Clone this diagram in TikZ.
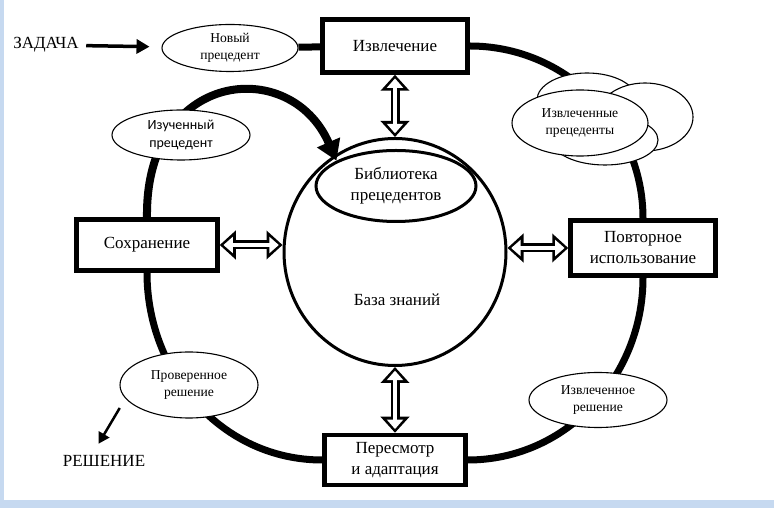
\documentclass[tikz,border=0pt]{standalone}
\usepackage{fontspec}
\setmainfont{Liberation Serif}
\newfontfamily\calibri{Carlito}
\usetikzlibrary{arrows.meta,shapes.geometric}

\definecolor{pageblue}{RGB}{198,217,240}

\tikzset{
  stage/.style={draw, fill=white, line width=4.5pt, minimum width=145pt,
    minimum height=53pt, align=center, font=\fontsize{17}{21}\selectfont},
  caseell/.style={ellipse, draw, fill=white, line width=1.1pt, inner sep=0pt,
    minimum width=136pt, minimum height=48pt, align=center,
    font=\fontsize{13.6}{17}\selectfont},
  ring/.style={line width=7pt},
  dbl/.style={line width=9pt,
    {Triangle[length=16pt,width=28pt]}-{Triangle[length=16pt,width=28pt]},
    postaction={draw=white, line width=3.5pt,
      {Triangle[length=9.5pt,width=16pt]}-{Triangle[length=9.5pt,width=16pt]},
      shorten <=3.7pt, shorten >=3.7pt}},
  txt/.style={font=\fontsize{17}{21}\selectfont}
}

\begin{document}
\begin{tikzpicture}[x=1pt,y=1pt]

% Page
\fill[pageblue] (0,0) rectangle (774,508);
\fill[white] (4,8) rectangle (774,508);
\useasboundingbox (0,0) rectangle (774,508);

% Stages
\node[stage] (izv) at (395,462) {Извлечение};
\node[stage, minimum height=55pt] (povt) at (643,260) {Повторное\\использование};
\node[stage, minimum width=141pt, minimum height=51pt] (soh) at (147,263) {Сохранение};
\node[stage, minimum width=141pt, minimum height=50pt] (pers) at (395,48) {Пересмотр\\и адаптация};

% Knowledge base
\node[ellipse, draw, line width=3pt, minimum width=222pt, minimum height=227pt] (kb) at (395,256) {};
\node[ellipse, draw, line width=3pt, minimum width=160pt, minimum height=71pt,
  align=center, txt] (lib) at (396,322) {Библиотека\\прецедентов};
\node[txt] (kbl) at (397,208) {База знаний};

% Cycle
\draw[ring] (izv.east) to[out=0,in=90] (povt.north);
\draw[ring] (povt.south) to[out=-90,in=0] (pers.east);
\draw[ring] (pers.west) to[out=180,in=-90] (soh.south);
\draw[line width=8pt, -{Triangle[length=20pt,width=24pt]}]
  (soh.north) .. controls +(-2,147) and +(-46,106) .. (lib.157);

% Cases
\node[caseell, minimum height=47pt] (nov) at (230,460) {Новый\\прецедент};
\node[caseell, minimum width=138pt, minimum height=50pt,
  font=\calibri\fontsize{14}{17.5}\selectfont] (izu) at (181,373) {Изученный\\прецедент};
\node[caseell, minimum width=138pt, minimum height=66pt] (pr) at (189,123) {Проверенное\\решение};
\node[caseell, minimum width=138pt, minimum height=55pt] (izr) at (598,108) {Извлеченное\\решение};

% Retrieved cases
\node[caseell, minimum width=100pt, minimum height=54pt] (cltop) at (587,408) {};
\node[caseell, minimum width=96pt, minimum height=68pt] (clright) at (645,391) {};
\node[caseell, minimum width=106pt, minimum height=50pt] (clbot) at (605,368) {};
\node[caseell, minimum width=136pt, minimum height=66pt] (found) at (580,385) {Извлеченные\\прецеденты};

% Input and output
\node[txt] (zad) at (46,463) {ЗАДАЧА};
\node[txt, inner sep=2pt] (res) at (104,47) {РЕШЕНИЕ};
\draw[line width=3.5pt, -{Triangle[length=13pt,width=14pt]}, shorten <=4pt, shorten >=12pt] (zad) -- (nov);
\draw[ring] (nov) -- (izv);
\draw[line width=2.5pt, -{Triangle[length=11pt,width=12pt]}, shorten <=11pt, shorten >=11pt]
  (pr.192) -- (res.145);

% Links to the knowledge base
\draw[dbl] (kb) -- (izv);
\draw[dbl] (povt.west) -- (povt.west -| kb.east);
\draw[dbl] (kb) -- (pers);
\draw[dbl] (soh.east) -- (soh.east -| kb.west);

\end{tikzpicture}
\end{document}
